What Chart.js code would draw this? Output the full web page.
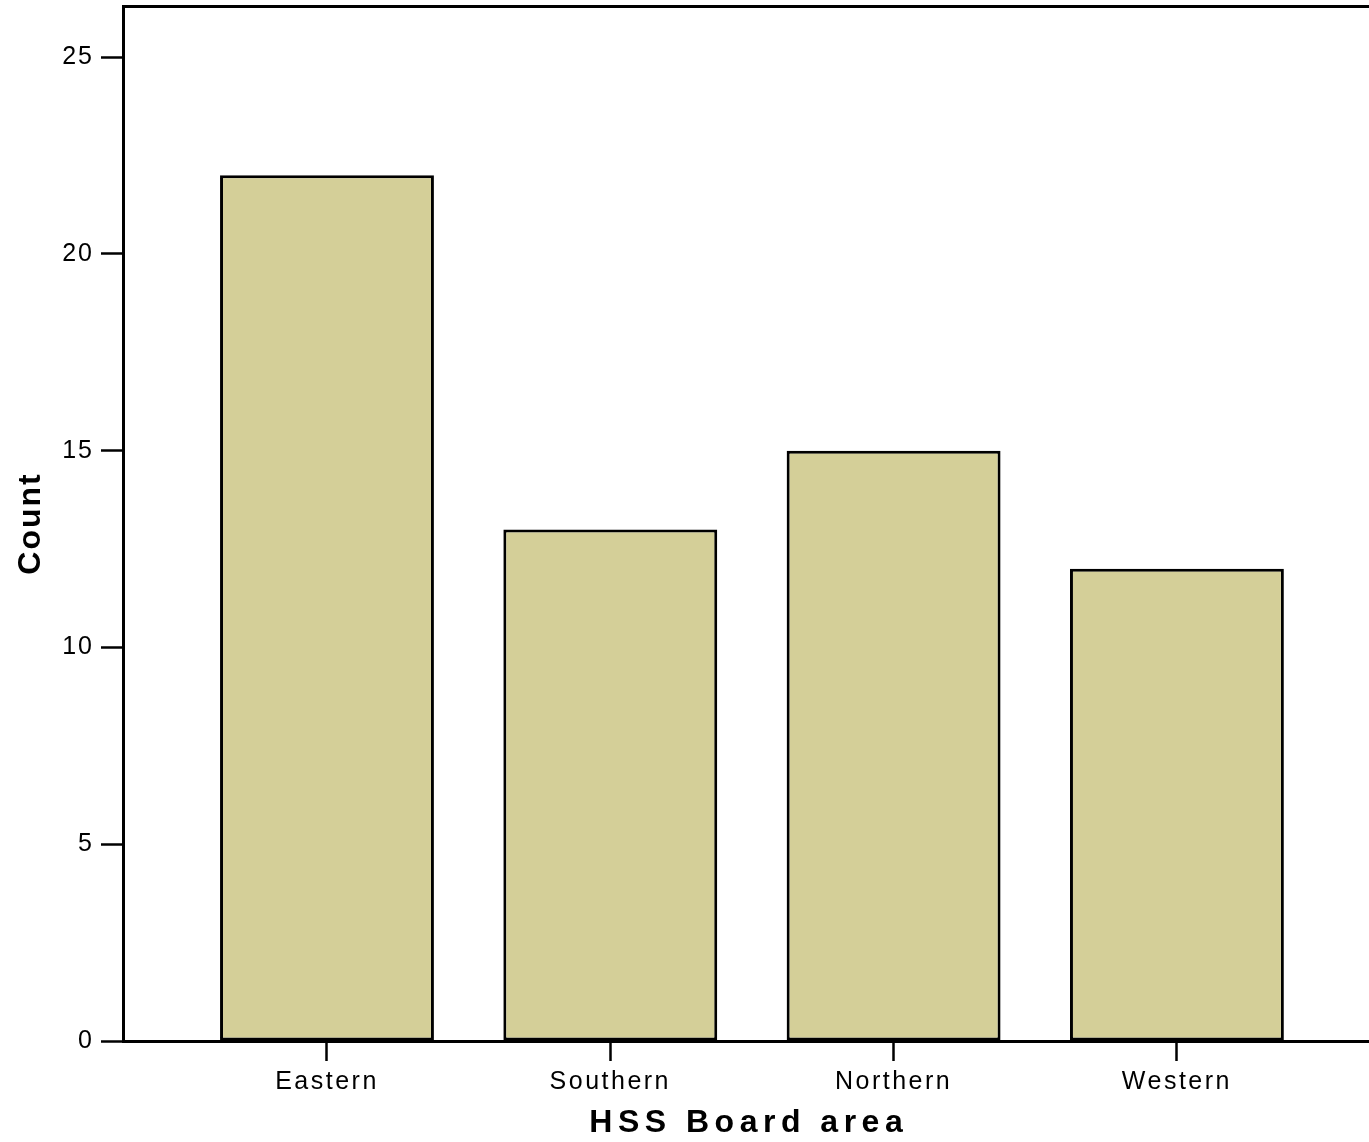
<!DOCTYPE html>
<html>
<head>
<meta charset="utf-8">
<script src="https://cdn.jsdelivr.net/npm/chart.js@4/dist/chart.umd.min.js"></script>
<style>
  html, body { margin: 0; padding: 0; background: #ffffff; overflow: hidden; }
  #wrap { width: 1369px; height: 1142px; position: relative; }
</style>
</head>
<body>
<div id="wrap"><canvas id="c"></canvas></div>
<script>
// ---- data ----
const categories = ['Eastern', 'Southern', 'Northern', 'Western'];
const counts = [22, 13, 15, 12];
const yTicks = [0, 5, 10, 15, 20, 25];
const xAxisTitle = 'HSS Board area';
const yAxisTitle = 'Count';

// ---- styling ----
const FONT = "'Liberation Sans', Arial, sans-serif";
const spacing = {
  x: { labels: 2.5, title: 5.5 },
  y: { labels: 2, title: 2 }
};

class SpacedLinear extends Chart.LinearScale {
  drawLabels(area) {
    const c = this.ctx; c.save();
    c.letterSpacing = ((spacing[this.id] || {}).labels || 0) + 'px';
    super.drawLabels(area); c.restore();
  }
  drawTitle() {
    const c = this.ctx; c.save();
    const sp = (spacing[this.id] || {}).title || 0;
    c.letterSpacing = sp + 'px';
    // compensate the trailing letter gap so the text stays centred
    if (this.isHorizontal()) c.translate(sp / 2, 0);
    super.drawTitle(); c.restore();
  }
}
SpacedLinear.id = 'spacedLinear';
SpacedLinear.defaults = Chart.LinearScale.defaults;
Chart.register(SpacedLinear);

const xMin = -0.72, xMax = 3.678;

new Chart(document.getElementById('c'), {
  type: 'bar',
  data: {
    datasets: [{
      data: categories.map((c, i) => ({ x: i, y: counts[i] })),
      backgroundColor: '#d4cf98',
      borderColor: '#000000',
      borderWidth: 3,
      borderSkipped: false,
      barPercentage: 0.755,
      categoryPercentage: 1.0
    }]
  },
  options: {
    responsive: true,
    maintainAspectRatio: false,
    animation: false,
    layout: { padding: { top: 6, left: 0, right: 0, bottom: 0 } },
    plugins: { legend: { display: false }, tooltip: { enabled: false } },
    scales: {
      x: {
        type: 'spacedLinear',
        position: 'bottom',
        min: xMin, max: xMax,
        offset: false,
        afterBuildTicks: (s) => { s.ticks = categories.map((_, i) => ({ value: i })); },
        afterFit: (s) => { s.height = 101; s.paddingLeft = 0; s.paddingRight = 0; },
        grid: { display: true, offset: false, drawOnChartArea: false, drawTicks: true, tickLength: 20, tickWidth: 2.5, tickColor: '#000', color: '#000' },
        border: { display: true, color: '#000', width: 3 },
        ticks: {
          autoSkip: false, maxRotation: 0, minRotation: 0, padding: 6,
          color: '#000', font: { family: FONT, size: 25 },
          callback: (v) => categories[v] !== undefined ? categories[v] : ''
        },
        title: { display: true, text: xAxisTitle, color: '#000', font: { family: FONT, size: 32, weight: 'bold' }, padding: { top: 0, bottom: 0 } }
      },
      xTop: {
        type: 'linear',
        position: 'top',
        min: xMin, max: xMax,
        afterFit: (s) => { s.height = 0; s.paddingLeft = 0; s.paddingRight = 0; },
        grid: { display: false, drawTicks: false },
        ticks: { display: false },
        border: { display: true, color: '#000', width: 3 }
      },
      y: {
        type: 'spacedLinear',
        position: 'left',
        min: 0, max: 26.3,
        afterBuildTicks: (s) => { s.ticks = yTicks.map(v => ({ value: v })); },
        afterFit: (s) => { s.width = 123; s.paddingTop = 0; s.paddingBottom = 0; },
        grid: { display: true, drawOnChartArea: false, drawTicks: true, tickLength: 22, tickWidth: 2.5, tickColor: '#000', color: '#000' },
        border: { display: true, color: '#000', width: 3 },
        ticks: { padding: 7, color: '#000', font: { family: FONT, size: 25 }, callback: (v) => String(v) },
        title: { display: true, text: yAxisTitle, color: '#000', font: { family: FONT, size: 32, weight: 'bold' }, padding: { top: 12, bottom: 0 } }
      }
    }
  }
});
</script>
</body>
</html>
